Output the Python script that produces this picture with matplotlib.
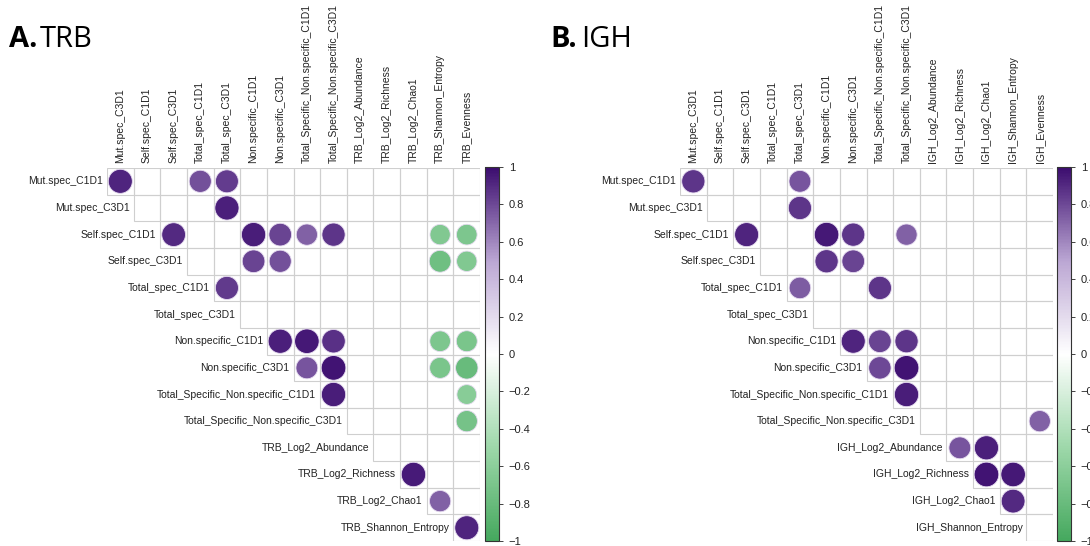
import numpy as np
import matplotlib
matplotlib.use("Agg")
import matplotlib.pyplot as plt
from matplotlib.patches import Circle, Rectangle
from matplotlib.colors import LinearSegmentedColormap, Normalize
from matplotlib.cm import ScalarMappable

plt.rcParams["font.family"] = ["Liberation Sans", "DejaVu Sans"]

# Variables (rows use all but the last, columns all but the first)
trb_vars = ["Mut.spec_C1D1", "Mut.spec_C3D1", "Self.spec_C1D1", "Self.spec_C3D1",
            "Total_spec_C1D1", "Total_spec_C3D1", "Non.specific_C1D1", "Non.specific_C3D1",
            "Total_Specific_Non.specific_C1D1", "Total_Specific_Non.specific_C3D1",
            "TRB_Log2_Abundance", "TRB_Log2_Richness", "TRB_Log2_Chao1",
            "TRB_Shannon_Entropy", "TRB_Evenness"]
igh_vars = ["Mut.spec_C1D1", "Mut.spec_C3D1", "Self.spec_C1D1", "Self.spec_C3D1",
            "Total_spec_C1D1", "Total_spec_C3D1", "Non.specific_C1D1", "Non.specific_C3D1",
            "Total_Specific_Non.specific_C1D1", "Total_Specific_Non.specific_C3D1",
            "IGH_Log2_Abundance", "IGH_Log2_Richness", "IGH_Log2_Chao1",
            "IGH_Shannon_Entropy", "IGH_Evenness"]

# Significant correlations: (row variable, column variable, r)
trb_corr = [
    ("Mut.spec_C1D1", "Mut.spec_C3D1", 0.92),
    ("Mut.spec_C1D1", "Total_spec_C1D1", 0.78),
    ("Mut.spec_C1D1", "Total_spec_C3D1", 0.84),
    ("Mut.spec_C3D1", "Total_spec_C3D1", 0.93),
    ("Self.spec_C1D1", "Self.spec_C3D1", 0.90),
    ("Self.spec_C1D1", "Non.specific_C1D1", 0.94),
    ("Self.spec_C1D1", "Non.specific_C3D1", 0.82),
    ("Self.spec_C1D1", "Total_Specific_Non.specific_C1D1", 0.72),
    ("Self.spec_C1D1", "Total_Specific_Non.specific_C3D1", 0.86),
    ("Self.spec_C1D1", "TRB_Shannon_Entropy", -0.66),
    ("Self.spec_C1D1", "TRB_Evenness", -0.68),
    ("Self.spec_C3D1", "Non.specific_C1D1", 0.82),
    ("Self.spec_C3D1", "Non.specific_C3D1", 0.78),
    ("Self.spec_C3D1", "TRB_Shannon_Entropy", -0.76),
    ("Self.spec_C3D1", "TRB_Evenness", -0.66),
    ("Total_spec_C1D1", "Total_spec_C3D1", 0.85),
    ("Non.specific_C1D1", "Non.specific_C3D1", 0.93),
    ("Non.specific_C1D1", "Total_Specific_Non.specific_C1D1", 0.96),
    ("Non.specific_C1D1", "Total_Specific_Non.specific_C3D1", 0.88),
    ("Non.specific_C1D1", "TRB_Shannon_Entropy", -0.68),
    ("Non.specific_C1D1", "TRB_Evenness", -0.70),
    ("Non.specific_C3D1", "Total_Specific_Non.specific_C1D1", 0.76),
    ("Non.specific_C3D1", "Total_Specific_Non.specific_C3D1", 0.97),
    ("Non.specific_C3D1", "TRB_Shannon_Entropy", -0.70),
    ("Non.specific_C3D1", "TRB_Evenness", -0.80),
    ("Total_Specific_Non.specific_C1D1", "Total_Specific_Non.specific_C3D1", 0.94),
    ("Total_Specific_Non.specific_C1D1", "TRB_Evenness", -0.62),
    ("Total_Specific_Non.specific_C3D1", "TRB_Evenness", -0.72),
    ("TRB_Log2_Richness", "TRB_Log2_Chao1", 0.95),
    ("TRB_Log2_Chao1", "TRB_Shannon_Entropy", 0.72),
    ("TRB_Shannon_Entropy", "TRB_Evenness", 0.92),
]
igh_corr = [
    ("Mut.spec_C1D1", "Mut.spec_C3D1", 0.86),
    ("Mut.spec_C1D1", "Total_spec_C3D1", 0.76),
    ("Mut.spec_C3D1", "Total_spec_C3D1", 0.86),
    ("Self.spec_C1D1", "Self.spec_C3D1", 0.92),
    ("Self.spec_C1D1", "Non.specific_C1D1", 0.96),
    ("Self.spec_C1D1", "Non.specific_C3D1", 0.86),
    ("Self.spec_C1D1", "Total_Specific_Non.specific_C3D1", 0.72),
    ("Self.spec_C3D1", "Non.specific_C1D1", 0.86),
    ("Self.spec_C3D1", "Non.specific_C3D1", 0.82),
    ("Total_spec_C1D1", "Total_spec_C3D1", 0.74),
    ("Total_spec_C1D1", "Total_Specific_Non.specific_C1D1", 0.86),
    ("Non.specific_C1D1", "Non.specific_C3D1", 0.92),
    ("Non.specific_C1D1", "Total_Specific_Non.specific_C1D1", 0.82),
    ("Non.specific_C1D1", "Total_Specific_Non.specific_C3D1", 0.86),
    ("Non.specific_C3D1", "Total_Specific_Non.specific_C1D1", 0.80),
    ("Non.specific_C3D1", "Total_Specific_Non.specific_C3D1", 0.97),
    ("Total_Specific_Non.specific_C1D1", "Total_Specific_Non.specific_C3D1", 0.94),
    ("Total_Specific_Non.specific_C3D1", "IGH_Evenness", 0.72),
    ("IGH_Log2_Abundance", "IGH_Log2_Richness", 0.76),
    ("IGH_Log2_Abundance", "IGH_Log2_Chao1", 0.93),
    ("IGH_Log2_Richness", "IGH_Log2_Chao1", 0.97),
    ("IGH_Log2_Richness", "IGH_Shannon_Entropy", 0.96),
    ("IGH_Log2_Chao1", "IGH_Shannon_Entropy", 0.90),
]

cbar_ticks = [1, 0.8, 0.6, 0.4, 0.2, 0, -0.2, -0.4, -0.6, -0.8, -1]

cmap = LinearSegmentedColormap.from_list(
    "grn_wht_pur", ["#45A85E", "#9ED8AA", "#FFFFFF", "#BBA6D3", "#3B0C6E"])
norm = Normalize(-1, 1)

W, H = 1090, 546
fig = plt.figure(figsize=(W / 100, H / 100), dpi=100)


def px_axes(x0, y0, x1, y1):
    return fig.add_axes([x0 / W, 1 - y1 / H, (x1 - x0) / W, (y1 - y0) / H])


def draw_panel(x0, y0, variables, corr, cbar_x):
    n = len(variables) - 1
    cell = 26.65
    ax = px_axes(x0, y0, x0 + n * cell, y0 + n * cell)
    ax.set_xlim(0, n)
    ax.set_ylim(n, 0)
    ax.axis("off")
    rows = variables[:-1]
    cols = variables[1:]
    for i in range(n):
        for j in range(i, n):
            ax.add_patch(Rectangle((j, i), 1, 1, fill=False, edgecolor="#cfcfcf",
                                   linewidth=0.8, zorder=1))
    for i, name in enumerate(rows):
        ax.text(i - 0.15, i + 0.5, name, ha="right", va="center",
                fontsize=7.5, color="#222222")
    for j, name in enumerate(cols):
        ax.text(j + 0.5, -0.18, name, ha="center", va="bottom", rotation=90,
                fontsize=7.5, color="#222222")
    for rname, cname, r in corr:
        i = rows.index(rname)
        j = cols.index(cname)
        rad = 0.47 * np.sqrt(abs(r))
        ax.add_patch(Circle((j + 0.5, i + 0.5), rad, facecolor=cmap(norm(r)),
                            edgecolor="#e6dcf0", linewidth=0.6, zorder=3))

    cax = px_axes(cbar_x, y0 - 1, cbar_x + 14, y0 + n * cell)
    cb = fig.colorbar(ScalarMappable(norm=norm, cmap=cmap), cax=cax, ticks=cbar_ticks)
    cb.ax.set_yticklabels([("%g" % t).replace("-", "\u2212") for t in cbar_ticks])
    cb.ax.tick_params(labelsize=8, length=3, width=0.6, colors="#222222", pad=4)
    cb.outline.set_linewidth(0.8)
    cb.outline.set_edgecolor("#333333")


draw_panel(107, 168, trb_vars, trb_corr, 485)
draw_panel(680, 168, igh_vars, igh_corr, 1057)

title_font = ["Open Sans", "DejaVu Sans"]
fig.text(9 / W, 1 - 47 / H, "A.", fontsize=21, fontweight="bold",
         family=title_font, ha="left", va="baseline")
fig.text(40 / W, 1 - 47 / H, "TRB", fontsize=21, family=title_font,
         ha="left", va="baseline")
fig.text(550 / W, 1 - 47 / H, "B.", fontsize=21, fontweight="bold",
         family=title_font, ha="left", va="baseline")
fig.text(581 / W, 1 - 47 / H, "IGH", fontsize=21, family=title_font,
         ha="left", va="baseline")

fig.savefig("out.png", dpi=100, facecolor="white")
